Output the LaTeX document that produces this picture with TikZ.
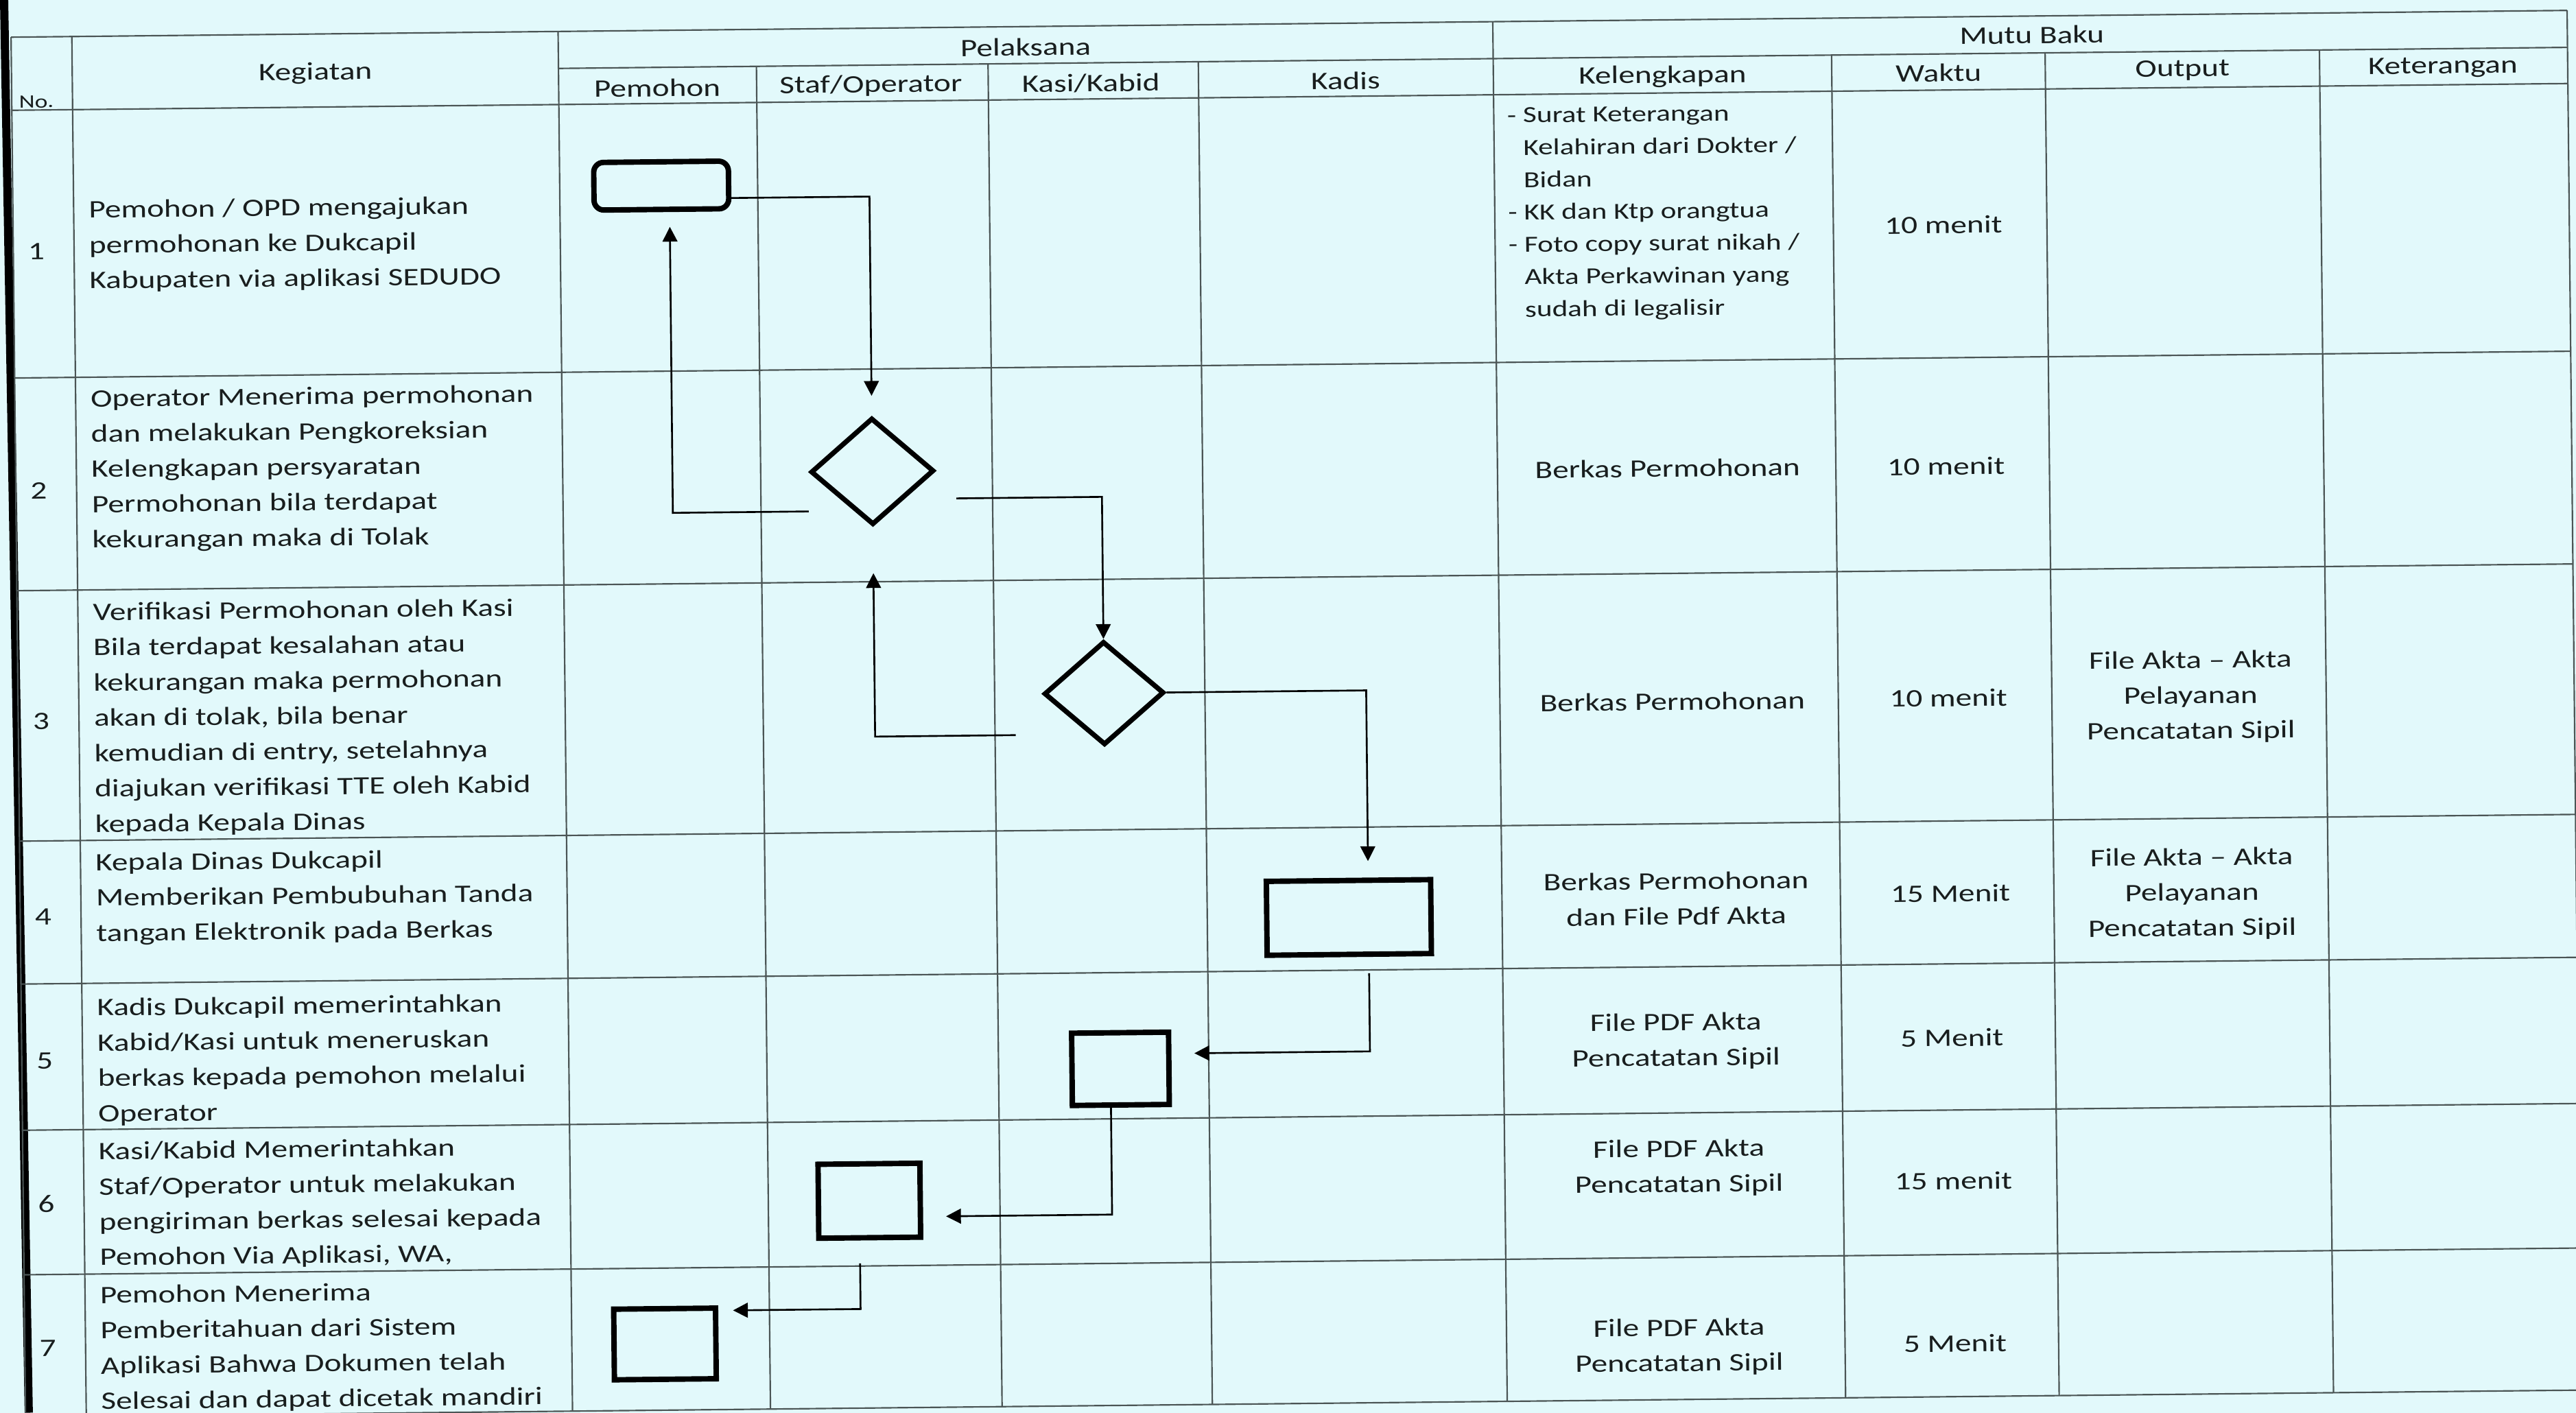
\documentclass[tikz,border=0pt]{standalone}
\usepackage{fontspec}
\setmainfont{Carlito}[FakeStretch=1.29]
\usetikzlibrary{arrows.meta, shapes.geometric}
\definecolor{scanbg}{RGB}{226,249,251}
\definecolor{ink}{RGB}{25,30,30}
\definecolor{rulecol}{RGB}{75,85,85}

\begin{document}
\begin{tikzpicture}[x=1pt, y=-1pt,
        tableline/.style={draw=rulecol, line width=0.9pt},
        celltext/.style={inner sep=0pt, text=ink, font=\fontsize{15.3}{21.5}\selectfont},
        listtext/.style={inner sep=0pt, text=ink, font=\fontsize{14}{19.7}\selectfont},
        startbox/.style={draw, rectangle, rounded corners=6pt, line width=3.3pt, minimum width=82pt, minimum height=29pt, inner sep=0pt},
        taskbox/.style={draw, rectangle, line width=3.3pt, inner sep=0pt},
        decision/.style={draw, diamond, line width=3pt, inner sep=0pt},
        arrow/.style={-{Triangle[length=9pt, width=9pt]}, line width=1.1pt}
    ]
    % --- page ---
    \fill[scanbg] (0,0) rectangle (1568,860);
    \useasboundingbox (0,0) rectangle (1568,860);
    \draw[black, line width=5pt] (2.5,0) -- (17.5,860);

    \begin{scope}[rotate around={0.6:(784,430)}, transform shape]
    % --- table rules ---
    \draw[tableline] (11,14.5) -- (1567,14.5);
    \draw[tableline] (344,37) -- (1567,37);
    \draw[tableline] (11,59) -- (1567,59);
    \foreach \y in {222,351.5,504,591,680,768,854.5}
        \draw[tableline] (11,\y) -- (1567,\y);
    \foreach \x in {11,48,344,913,1567}
        \draw[tableline] (\x,14.5) -- (\x,854.5);
    \foreach \x in {464.5,605.5,733.5,1119,1249,1416}
        \draw[tableline] (\x,37) -- (\x,854.5);

    % --- header ---
    \node[celltext] (no) at (26,54) {\fontsize{11.5}{12}\selectfont No.};
    \node[celltext] (kegiatan) at (196,38.5) {Kegiatan};
    \node[celltext] (pelaksana) at (628.5,27) {Pelaksana};
    \node[celltext] (pemohon) at (404,49.5) {Pemohon};
    \node[celltext] (staf) at (534,49.5) {Staf/Operator};
    \node[celltext] (kasi) at (668,49.5) {Kasi/Kabid};
    \node[celltext] (kadishead) at (823,49.5) {Kadis};
    \node[celltext] (mutu) at (1241,26) {Mutu Baku};
    \node[celltext] (kelengkapan) at (1016,49) {Kelengkapan};
    \node[celltext] (waktu) at (1184,48.5) {Waktu};
    \node[celltext] (output) at (1332.5,48.5) {Output};
    \node[celltext] (keterangan) at (1491,48.5) {Keterangan};

    % --- No. column ---
    \foreach \n/\y in {1/145,2/291,3/431,4/550,5/638,6/725,7/813}
        \node[celltext] (no\n) at (25,\y) {\n};

    % --- Kegiatan column ---
    \node[celltext, anchor=west, align=left] (keg1) at (57,142.5) {Pemohon / OPD mengajukan\\permohonan ke Dukcapil\\Kabupaten via aplikasi SEDUDO};
    \node[celltext, anchor=west, align=left] (keg2) at (57,279) {Operator Menerima permohonan\\dan melakukan Pengkoreksian\\Kelengkapan persyaratan\\Permohonan bila terdapat\\kekurangan maka di Tolak};
    \node[celltext, anchor=west, align=left] (keg3) at (57,430.5) {Verifikasi Permohonan oleh Kasi\\Bila terdapat kesalahan atau\\kekurangan maka permohonan\\akan di tolak, bila benar\\kemudian di entry, setelahnya\\diajukan verifikasi TTE oleh Kabid\\kepada Kepala Dinas};
    \node[celltext, anchor=west, align=left] (keg4) at (57,540) {Kepala Dinas Dukcapil\\Memberikan Pembubuhan Tanda\\tangan Elektronik pada Berkas};
    \node[celltext, anchor=west, align=left] (keg5) at (57,639) {Kadis Dukcapil memerintahkan\\Kabid/Kasi untuk meneruskan\\berkas kepada pemohon melalui\\Operator};
    \node[celltext, anchor=west, align=left] (keg6) at (57,726.5) {Kasi/Kabid Memerintahkan\\Staf/Operator untuk melakukan\\pengiriman berkas selesai kepada\\Pemohon Via Aplikasi, WA,};
    \node[celltext, anchor=west, align=left] (keg7) at (57,814) {Pemohon Menerima\\Pemberitahuan dari Sistem\\Aplikasi Bahwa Dokumen telah\\Selesai dan dapat dicetak mandiri};

    % --- Mutu Baku columns ---
    \node[listtext, anchor=west, align=left] (syarat1) at (921,132) {-~Surat Keterangan\\\hphantom{-~}Kelahiran dari Dokter /\\\hphantom{-~}Bidan\\-~KK dan Ktp orangtua\\-~Foto copy surat nikah /\\\hphantom{-~}Akta Perkawinan yang\\\hphantom{-~}sudah di legalisir};
    \node[celltext] (syarat2) at (1016.5,287.5) {Berkas Permohonan};
    \node[celltext] (syarat3) at (1018,429.5) {Berkas Permohonan};
    \node[celltext, align=center] (syarat4) at (1019,549.5) {Berkas Permohonan\\dan File Pdf Akta};
    \node[celltext, align=center] (syarat5) at (1018,636.5) {File PDF Akta\\Pencatatan Sipil};
    \node[celltext, align=center] (syarat6) at (1019,713.5) {File PDF Akta\\Pencatatan Sipil};
    \node[celltext, align=center] (syarat7) at (1018,822.5) {File PDF Akta\\Pencatatan Sipil};

    \foreach \n/\y/\t in {1/141/10 menit,2/288/10 menit,3/429/10 menit,4/548/15 Menit,5/636/5 Menit,6/723/15 menit,7/822/5 Menit}
        \node[celltext] (waktu\n) at (1186,\y) {\t};

    \node[celltext, align=center] (out3) at (1333.5,430) {File Akta -- Akta\\Pelayanan\\Pencatatan Sipil};
    \node[celltext, align=center] (out4) at (1333,550) {File Akta -- Akta\\Pelayanan\\Pencatatan Sipil};

    % --- flow ---
    \node[startbox] (start) at (405.8,109) {};
    \node[decision, minimum width=75pt, minimum height=65pt] (d1) at (532.5,284.3) {};
    \node[decision, minimum width=73pt, minimum height=63pt] (d2) at (672.1,420.8) {};
    \node[taskbox, minimum width=100pt, minimum height=45pt] (kadis) at (819.7,558.9) {};
    \node[taskbox, minimum width=59pt, minimum height=44pt] (r5) at (679.7,649.6) {};
    \node[taskbox, minimum width=62pt, minimum height=45pt] (r6) at (526,728.3) {};
    \node[taskbox, minimum width=62pt, minimum height=43pt] (r7) at (400.7,814.2) {};

    \draw[arrow, shorten >=12pt] ([yshift=-8pt]start.east) -| (d1.north);
    \draw[arrow, shorten >=9pt] ([yshift=-24pt]d1.west) -| ([xshift=5pt]start.south);
    \draw[arrow, shorten <=12pt] ([yshift=-17pt]d1.east) -| (d2.north);
    \draw[arrow, shorten <=16pt, shorten >=28pt] ([yshift=-25pt]d2.west) -| (d1.south);
    \draw[arrow, shorten >=10pt] (d2.east) -| ([xshift=12pt]kadis.north);
    \draw[arrow, shorten <=10pt, shorten >=14pt] ([xshift=12pt]kadis.south) |- ([yshift=9pt]r5.east);
    \draw[arrow, shorten >=14pt] ([xshift=-6pt]r5.south) |- ([yshift=-10pt]r6.east);
    \draw[arrow, shorten <=14pt, shorten >=9pt] ([xshift=-6pt]r6.south) |- ([yshift=20pt]r7.east);
    \end{scope}
\end{tikzpicture}
\end{document}
